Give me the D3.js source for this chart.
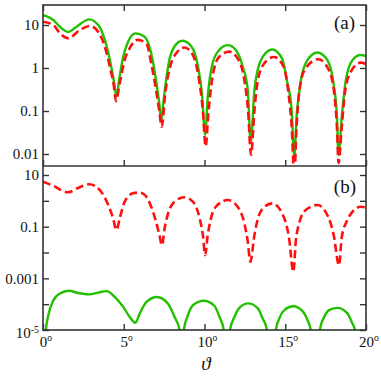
<!DOCTYPE html>
<html>
<head>
<meta charset="utf-8">
<script src="https://cdn.jsdelivr.net/npm/d3@7"></script>
<style>
  body { margin: 0; background: #fff; }
  svg { display: block; }
</style>
</head>
<body>
<div id="chart"></div>
<script>
// angle ticks (degrees) and y ticks of the two panels
var angleTicks = [0, 5, 10, 15, 20];
var ticksA = [10, 1, 0.1, 0.01];
var labelsA = ["10", "1", "0.1", "0.01"];
var ticksB = [10, 1, 0.1, 0.01, 0.001, 1e-4, 1e-5];
var labelsB = ["10", "", "0.1", "", "0.001", "", "10^-5"];

// panel (a) : [angle, value]
var greenA = [[0,17],[0.64,13.1],[1.05,9.1],[1.56,6.9],[2.08,9.1],[2.85,13.5],[3.42,10],[3.83,4.5],[4.14,1.54],[4.38,0.52],[4.55,0.22],
  [4.71,0.52],[4.96,1.8],[5.27,4.1],[5.72,6.4],[6.3,5.3],[6.7,2.2],[7.0,0.52],[7.2,0.15],[7.33,0.06],[7.45,0.15],[7.6,0.45],
  [7.84,1.67],[8.15,3.2],[8.62,4.3],[9.18,3.2],[9.6,1.07],[9.84,0.26],[10.04,0.028],[10.2,0.21],[10.5,1.28],[10.9,2.6],[11.44,3.4],
  [11.95,2.6],[12.37,1.07],[12.68,0.31],[12.86,0.018],[13.09,0.31],[13.29,0.9],[13.6,1.8],[14.2,2.7],[14.8,1.67],[15.1,0.52],
  [15.4,0.1],[15.55,0.0087],[15.72,0.09],[15.97,0.52],[16.38,1.54],[16.99,2.3],[17.6,1.54],[17.99,0.44],[18.2,0.074],[18.3,0.0095],
  [18.5,0.074],[18.75,0.52],[19.17,1.54],[19.67,2.0],[20,1.9]];
var redA = [[0,11.9],[0.64,10],[1.05,6.4],[1.56,4.9],[2.29,7.7],[2.9,9.5],[3.42,6.9],[3.83,3.1],[4.14,1.07],[4.38,0.4],[4.52,0.17],
  [4.75,0.44],[5.06,1.54],[5.37,2.9],[5.85,4.5],[6.4,3.7],[6.7,1.3],[7.0,0.31],[7.2,0.1],[7.35,0.043],[7.57,0.26],[7.9,1.17],
  [8.25,2.2],[8.76,3.0],[9.28,2.0],[9.63,0.63],[9.9,0.1],[10.07,0.015],[10.25,0.1],[10.5,0.63],[10.9,1.8],[11.55,2.4],[12.05,1.67],
  [12.47,0.52],[12.7,0.1],[12.88,0.0095],[13.09,0.1],[13.3,0.52],[13.7,1.28],[14.3,1.8],[14.9,1.07],[15.2,0.26],[15.4,0.043],
  [15.56,0.003],[15.7,0.043],[15.86,0.26],[16.2,0.9],[17.05,1.6],[17.7,0.9],[18.03,0.26],[18.2,0.043],[18.3,0.0062],[18.5,0.043],
  [18.69,0.26],[19.06,0.82],[19.67,1.33],[20,1.23]];

// panel (b)
var redB = [[0,5.5],[0.64,3.8],[1.56,2.14],[2.2,3.2],[2.86,4.4],[3.52,2.6],[4.04,0.69],[4.34,0.21],[4.55,0.074],[4.75,0.21],
  [5.06,0.93],[5.57,1.95],[5.95,2.1],[6.3,1.7],[6.7,0.59],[7.0,0.155],[7.2,0.05],[7.37,0.019],[7.53,0.085],[7.78,0.38],[8.15,0.93],
  [8.76,1.38],[9.28,0.93],[9.7,0.21],[9.9,0.047],[10.04,0.0079],[10.2,0.047],[10.4,0.21],[10.7,0.59],[11.44,1.07],[12.05,0.59],
  [12.47,0.134],[12.68,0.026],[12.84,0.0044],[13.09,0.047],[13.3,0.2],[13.6,0.5],[14.2,0.8],[14.94,0.21],[15.24,0.035],[15.5,0.0018],
  [15.66,0.03],[15.86,0.134],[16.27,0.44],[17.0,0.69],[17.7,0.21],[18.0,0.047],[18.33,0.0032],[18.5,0.04],[18.85,0.18],
  [19.26,0.44],[19.67,0.59],[20,0.55]];
var greenB = [[0.1,1e-6],[0.18,1.0e-5],[0.33,3.7e-5],[0.64,1.4e-4],[1.05,2.6e-4],[1.6,3.3e-4],[2.18,2.7e-4],[2.85,2.4e-4],
  [3.42,2.8e-4],[3.95,3.2e-4],[4.44,1.9e-4],[4.96,7.9e-5],[5.37,3.2e-5],[5.72,1.9e-5],[5.99,4.4e-5],[6.4,1.2e-4],[7.06,1.9e-4],
  [7.73,1.07e-4],[8.15,3.2e-5],[8.46,1.0e-5],[8.59,1e-7],[8.72,1.0e-5],[8.97,3.7e-5],[9.28,9.1e-5],[9.96,1.35e-4],[10.62,8.5e-5],
  [10.93,3.2e-5],[11.19,1.0e-5],[11.38,1e-7],[11.58,1.0e-5],[11.85,3.2e-5],[12.16,7.2e-5],[12.71,1.07e-4],[13.29,7e-5],
  [13.6,2.8e-5],[13.87,1.0e-5],[14.15,1e-7],[14.42,1.0e-5],[14.67,3.2e-5],[14.94,5.9e-5],[15.49,8.3e-5],[16.07,5.4e-5],
  [16.38,2.4e-5],[16.58,1.0e-5],[16.86,1e-7],[17.14,1.0e-5],[17.41,3.2e-5],[17.72,5.9e-5],[18.23,7.2e-5],[18.85,4.4e-5],
  [19.12,2e-5],[19.32,1.0e-5],[19.6,1e-7],[20,1e-7]];

var W = 381, H = 378;
var left = 43, right = 366, topA = 5, midY = 166, botB = 330;
var serif = "'Liberation Serif','Times New Roman',serif";
var frameColor = "#333";
var green = "#22c000", red = "#ff1010";

var svg = d3.select('#chart').append('svg').attr('width', W).attr('height', H);

var x = d3.scaleLinear().domain([0, 20]).range([left, right]);
var yA = d3.scaleLog().domain([Math.pow(10, -2.279), Math.pow(10, 1.465)]).range([midY, topA]);
var yB = d3.scaleLog().domain([1e-5, Math.pow(10, 1.348)]).range([botB, midY]);

// clip each panel
var defs = svg.append('defs');
defs.append('clipPath').attr('id', 'clipA').append('rect')
    .attr('x', left).attr('y', topA).attr('width', right - left).attr('height', midY - topA);
defs.append('clipPath').attr('id', 'clipB').append('rect')
    .attr('x', left).attr('y', midY).attr('width', right - left).attr('height', botB - midY);

function drawCurve(data, yScale, clip, color, dashed){
    var line = d3.line()
        .x(function(d){ return x(d[0]); })
        .y(function(d){ return yScale(d[1]); })
        .curve(d3.curveMonotoneX);
    svg.append('path')
        .datum(data)
        .attr('clip-path', 'url(#' + clip + ')')
        .attr('d', line)
        .attr('fill', 'none')
        .attr('stroke', color)
        .attr('stroke-width', dashed ? 2.6 : 2.4)
        .attr('stroke-dasharray', dashed ? '8,4' : null)
        .attr('stroke-linejoin', 'round');
}

drawCurve(greenA, yA, 'clipA', green, false);
drawCurve(redA, yA, 'clipA', red, true);
drawCurve(redB, yB, 'clipB', red, true);
drawCurve(greenB, yB, 'clipB', green, false);

// axes (ticks pointing inwards)
function styleAxis(g){
    g.select('.domain').remove();
    g.attr('color', frameColor).attr('font-family', serif).attr('font-size', 15);
    g.selectAll('.tick line').attr('stroke-width', 1.4);
    g.selectAll('.tick text').attr('fill', '#111');
}

svg.append('g').attr('transform', 'translate(' + left + ',0)')
    .call(d3.axisLeft(yA).tickValues(ticksA).tickSize(-6).tickPadding(4)
        .tickFormat(function(d, i){ return labelsA[i]; }))
    .call(styleAxis);
svg.append('g').attr('transform', 'translate(' + right + ',0)')
    .call(d3.axisRight(yA).tickValues(ticksA).tickSize(-6).tickFormat(''))
    .call(styleAxis);

var axB = svg.append('g').attr('transform', 'translate(' + left + ',0)')
    .call(d3.axisLeft(yB).tickValues(ticksB).tickSize(-6).tickPadding(4)
        .tickFormat(function(d, i){ return labelsB[i]; }))
    .call(styleAxis);
// power label 10^-5
axB.selectAll('.tick text').each(function(d, i){
    var lab = labelsB[i];
    if(lab.indexOf('^') > 0){
        var parts = lab.split('^');
        var t = d3.select(this).text(parts[0]).attr('dy', '0.5em');
        t.append('tspan').attr('dy', '-0.55em').attr('font-size', 10).text(parts[1]);
    }
});
svg.append('g').attr('transform', 'translate(' + right + ',0)')
    .call(d3.axisRight(yB).tickValues(ticksB).tickSize(-6).tickFormat(''))
    .call(styleAxis);

svg.append('g').attr('transform', 'translate(0,' + topA + ')')
    .call(d3.axisTop(x).tickValues(angleTicks).tickSize(-6).tickFormat(''))
    .call(styleAxis);
svg.append('g').attr('transform', 'translate(0,' + midY + ')')
    .call(d3.axisBottom(x).tickValues(angleTicks).tickSize(-6).tickFormat(''))
    .call(styleAxis);

var axX = svg.append('g').attr('transform', 'translate(0,' + botB + ')')
    .call(d3.axisBottom(x).tickValues(angleTicks).tickSize(-6).tickFormat(function(d){ return d; }))
    .call(styleAxis);
// number centred on the tick, small "o" as degree mark
axX.selectAll('.tick text').each(function(d){
    var t = d3.select(this).attr('y', 17).attr('dy', 0);
    var w = this.getComputedTextLength();
    t.attr('text-anchor', 'start').attr('x', -w / 2);
    t.append('tspan').attr('dy', -6).attr('font-size', 9.5).text('o');
});

// frame
svg.append('rect')
    .attr('x', left).attr('y', topA).attr('width', right - left).attr('height', botB - topA)
    .attr('fill', 'none').attr('stroke', frameColor).attr('stroke-width', 1.6);
svg.append('line')
    .attr('x1', left).attr('x2', right).attr('y1', midY).attr('y2', midY)
    .attr('stroke', frameColor).attr('stroke-width', 1.6);

// panel labels
svg.append('text').attr('x', 355).attr('y', 29).attr('text-anchor', 'end')
    .attr('font-family', serif).attr('font-size', 19).attr('fill', '#111').text('(a)');
svg.append('text').attr('x', 356).attr('y', 193).attr('text-anchor', 'end')
    .attr('font-family', serif).attr('font-size', 19).attr('fill', '#111').text('(b)');

// x label
svg.append('text').attr('x', 206).attr('y', 370).attr('text-anchor', 'middle')
    .attr('font-family', serif).attr('font-style', 'italic').attr('font-size', 19)
    .attr('fill', '#111').text('\u03d1');
</script>
</body>
</html>
